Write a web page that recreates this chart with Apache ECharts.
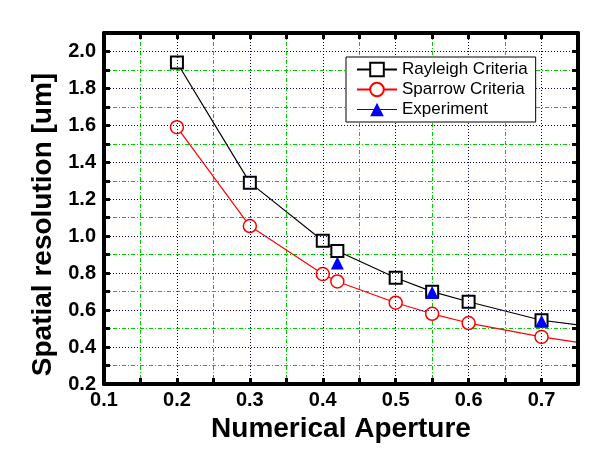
<!DOCTYPE html>
<html><head><meta charset="utf-8">
<script src="https://cdn.jsdelivr.net/npm/echarts@6/dist/echarts.min.js"></script>
<style>html,body{margin:0;padding:0;background:#fff}#c{width:609px;height:461px}</style>
</head><body><div id="c"></div>
<script>
// ---- data ----
const naValues   = [0.2, 0.3, 0.4, 0.42, 0.5, 0.55, 0.6, 0.7];
const rayleigh   = [1.94, 1.29, 0.975, 0.92, 0.775, 0.70, 0.645, 0.545];
const sparrow    = [1.59, 1.055, 0.795, 0.755, 0.64, 0.58, 0.53, 0.455];
const edgeNA       = 0.75;   // curves run on to the right frame without a marker
const rayleighEdge = 0.52;
const sparrowEdge  = 0.425;
const expNA      = [0.42, 0.55, 0.7];
const experiment = [0.855, 0.695, 0.54];
const xRange = [0.1, 0.75];
const yRange = [0.2, 2.1];
const seriesNames = ['Rayleigh Criteria', 'Sparrow Criteria', 'Experiment'];

const FONT = 'Liberation Sans, Arial, sans-serif';
const frame = () => ({show: true, onZero: false, lineStyle: {color: '#000', width: 4}});
const noLine = () => ({show: false, onZero: false});
const tickIn = () => ({show: true, inside: true, length: 6, lineStyle: {color: '#000', width: 3}});
const majorGrid = () => ({show: true, showMinLine: false, showMaxLine: false, lineStyle: {color: '#000080', width: 1, type: [1, 2]}});
const minorGrid = () => ({show: true, showMinLine: false, showMaxLine: false, lineStyle: {color: '#00cc00', width: 1, type: [4, 2, 1, 2]}});
const tickLabel = (m) => ({margin: m, fontSize: 20, fontWeight: 'bold', color: '#000', fontFamily: FONT, formatter: v => v.toFixed(1), showMaxLabel: false});
const titleStyle = (extra) => Object.assign({fontSize: 28, fontWeight: 'bold', color: '#000', fontFamily: FONT}, extra || {});

const chart = echarts.init(document.getElementById('c'), null, {renderer: 'canvas'});
chart.setOption({
  animation: false,
  backgroundColor: '#fff',
  grid: {left: 104, right: 31, top: 33, bottom: 77, containLabel: false, outerBoundsMode: 'none'},
  xAxis: [
    {type: 'value', position: 'bottom', min: xRange[0], max: xRange[1], interval: 0.1,
     axisLine: frame(), axisTick: tickIn(), axisLabel: tickLabel(6),
     splitLine: majorGrid(), z: 5,
     name: 'Numerical Aperture', nameLocation: 'middle', nameGap: 30, nameTextStyle: titleStyle()},
    {type: 'value', position: 'bottom', inverse: true, min: 0, max: +(xRange[1] - xRange[0]).toFixed(2), interval: 0.1,
     axisLine: noLine(), axisTick: tickIn(), axisLabel: {show: false}, splitLine: minorGrid()},
    {type: 'value', position: 'top', min: xRange[0], max: xRange[1], interval: 0.05,
     axisLine: frame(), axisTick: tickIn(), axisLabel: {show: false}, splitLine: {show: false}, z: 5}
  ],
  yAxis: [
    {type: 'value', position: 'left', min: yRange[0], max: yRange[1], interval: 0.2,
     axisLine: frame(), axisTick: tickIn(), axisLabel: tickLabel(8),
     splitLine: majorGrid(), z: 5,
     name: 'Spatial resolution [um]', nameLocation: 'middle', nameGap: 47,
     nameTextStyle: titleStyle({padding: [0, 32, 0, 0]})},
    {type: 'value', position: 'left', inverse: true, min: 0, max: +(yRange[1] - yRange[0]).toFixed(2), interval: 0.2,
     axisLine: noLine(), axisTick: tickIn(), axisLabel: {show: false}, splitLine: minorGrid()},
    {type: 'value', position: 'right', min: yRange[0], max: yRange[1], interval: 0.1,
     axisLine: frame(), axisTick: tickIn(), axisLabel: {show: false}, splitLine: {show: false}, z: 5}
  ],
  legend: {
    orient: 'vertical', left: 346, top: 57, z: 20,
    padding: [4, 8, 4, 10], itemGap: 3, itemWidth: 40, itemHeight: 17,
    backgroundColor: '#fff', borderColor: '#000', borderWidth: 1, borderRadius: 0,
    textStyle: {fontSize: 17, lineHeight: 17, color: '#000', fontFamily: FONT},
    data: [
      {name: seriesNames[0]},
      {name: seriesNames[1]},
      {name: seriesNames[2], lineStyle: {opacity: 1, width: 1.2, color: '#0000ff', type: 'solid'}}
    ]
  },
  series: [
    {name: seriesNames[0], type: 'line', xAxisIndex: 0, yAxisIndex: 0,
     data: naValues.map((x, i) => [x, rayleigh[i]]).concat([{value: [edgeNA, rayleighEdge], symbol: 'none'}]),
     symbol: 'rect', symbolSize: 12,
     lineStyle: {color: '#000', width: 1.2},
     itemStyle: {color: '#fff', borderColor: '#000', borderWidth: 2}, z: 3},
    {name: seriesNames[1], type: 'line', xAxisIndex: 0, yAxisIndex: 0,
     data: naValues.map((x, i) => [x, sparrow[i]]).concat([{value: [edgeNA, sparrowEdge], symbol: 'none'}]),
     symbol: 'circle', symbolSize: 13,
     lineStyle: {color: '#ff0000', width: 1.2},
     itemStyle: {color: '#fff', borderColor: '#ff0000', borderWidth: 1.5}, z: 3},
    {name: seriesNames[2], type: 'line', xAxisIndex: 0, yAxisIndex: 0,
     data: expNA.map((x, i) => [x, experiment[i]]),
     symbol: 'triangle', symbolSize: 13,
     lineStyle: {color: '#0000ff', width: 1.2, opacity: 0},
     itemStyle: {color: '#0000ff', borderColor: '#0000ff', borderWidth: 0}, z: 4}
  ]
});
</script></body></html>
